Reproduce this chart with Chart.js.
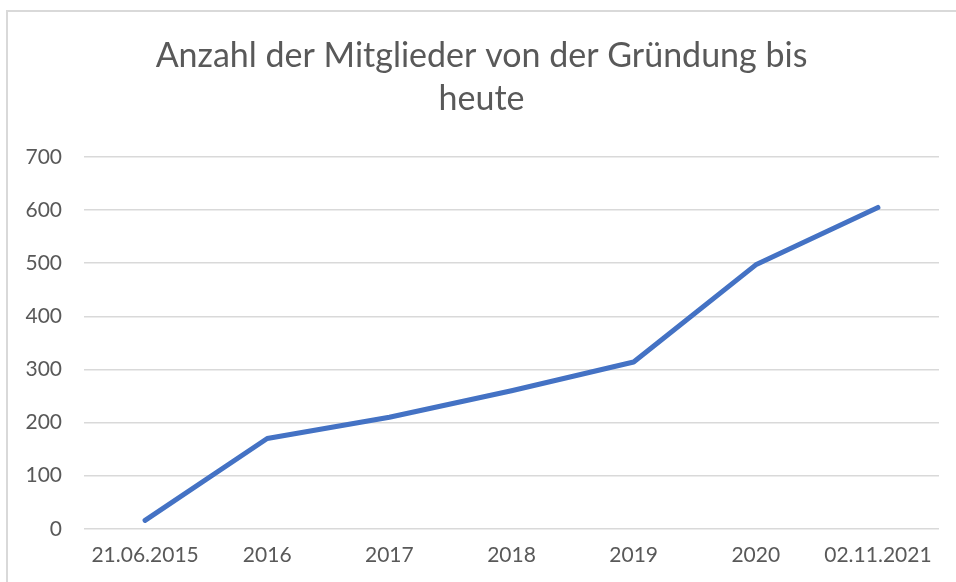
<!DOCTYPE html>
<html>
<head>
<meta charset="utf-8">
<script src="https://cdn.jsdelivr.net/npm/chart.js@4"></script>
<style>
  html, body { margin: 0; padding: 0; background: #fff; }
  #rahmen {
    position: absolute; left: 6px; top: 10px; width: 980px; height: 620px;
    border: 2px solid #d9d9d9; box-sizing: border-box;
  }
  #wrap { position: absolute; left: 0; top: 0; width: 956px; height: 582px; }
</style>
</head>
<body>
<div id="rahmen"></div>
<div id="wrap"><canvas id="grafik" width="956" height="582"></canvas></div>
<script>
const titelZeilen = ["Anzahl der Mitglieder von der Gründung bis", "heute"];
const kategorien = ["21.06.2015", "2016", "2017", "2018", "2019", "2020", "02.11.2021"];
const mitglieder = [16, 170, 210, 260, 314, 497, 605];
const yMax = 700;
const yStep = 100;

const textFarbe = "#595959";
const schrift = "Lato, 'Open Sans', sans-serif";

const ctx = document.getElementById("grafik").getContext("2d");

new Chart(ctx, {
  type: "line",
  data: {
    labels: kategorien,
    datasets: [
      {
        data: mitglieder,
        borderColor: "#4472C4",
        borderWidth: 5,
        borderCapStyle: "round",
        borderJoinStyle: "round",
        pointRadius: 0,
        tension: 0,
        fill: false,
      },
    ],
  },
  options: {
    responsive: false,
    animation: false,
    layout: { padding: { left: 24, right: 17, top: 0, bottom: 0 } },
    plugins: {
      legend: { display: false },
      tooltip: { enabled: false },
      title: {
        display: true,
        text: titelZeilen,
        color: textFarbe,
        font: { family: schrift, size: 34, weight: "normal", lineHeight: 1.265 },
        padding: { top: 35, bottom: 36 },
      },
    },
    scales: {
      x: {
        offset: true,
        grid: { display: false, drawTicks: false },
        border: { display: false },
        ticks: {
          color: textFarbe,
          padding: 14,
          maxRotation: 0,
          autoSkip: false,
          font: { family: schrift, size: 21 },
        },
      },
      y: {
        min: 0,
        max: yMax,
        afterFit: (skala) => {
          skala.width = 60;
        },
        grid: { color: "#d9d9d9", lineWidth: 1.5, drawTicks: false },
        border: { display: false },
        ticks: {
          stepSize: yStep,
          color: textFarbe,
          padding: 22,
          font: { family: schrift, size: 21 },
        },
      },
    },
  },
});
</script>
</body>
</html>
